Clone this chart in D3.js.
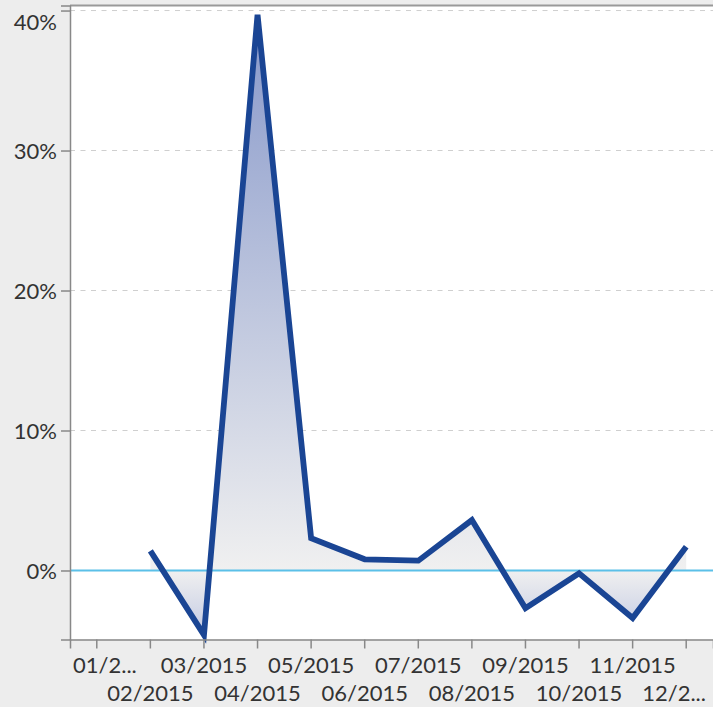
<!DOCTYPE html>
<html>
<head>
<meta charset="utf-8">
<script src="https://cdn.jsdelivr.net/npm/d3@7"></script>
<style>
  html, body { margin: 0; padding: 0; background: #ededed; }
  svg { display: block; }
  svg text { font-family: Lato, "Open Sans", sans-serif; }
</style>
</head>
<body>
<div id="content"></div>
<script>
// data
const months = ['01/2015', '02/2015', '03/2015', '04/2015', '05/2015', '06/2015',
                '07/2015', '08/2015', '09/2015', '10/2015', '11/2015', '12/2015'];
const tickLabels = ['01/2...', '02/2015', '03/2015', '04/2015', '05/2015', '06/2015',
                    '07/2015', '08/2015', '09/2015', '10/2015', '11/2015', '12/2...'];
const changes = [null, 0.014, -0.046, 0.397, 0.023, 0.008, 0.007, 0.036, -0.027, -0.002, -0.034, 0.017];
const yTicks = [0, 0.1, 0.2, 0.3, 0.4];

const width = 713, height = 707;
const margin = { top: 5.5, right: 0, bottom: 67.5, left: 70 };

const svg = d3.select('#content').append('svg')
  .attr('width', width).attr('height', height);

const x = d3.scaleBand().domain(months).range([margin.left, width - margin.right]);
const y = d3.scaleLinear().domain([-0.0493, 0.4036]).range([height - margin.bottom, margin.top]);
const cx = d => x(d) + x.bandwidth() / 2;

// cut-off title above the frame (only its descenders show)
svg.append('text')
  .attr('x', 400).attr('y', -4)
  .attr('text-anchor', 'middle')
  .style('font-size', '22px').style('font-weight', 'bold').style('fill', '#111')
  .text('Monthly change, top products per group');

// plot background
svg.append('rect')
  .attr('x', margin.left).attr('y', margin.top)
  .attr('width', width - margin.left - margin.right)
  .attr('height', height - margin.bottom - margin.top)
  .attr('fill', '#fff');

// gridlines
svg.append('g').selectAll('line')
  .data(yTicks.filter(t => t !== 0))
  .join('line')
  .attr('x1', margin.left).attr('x2', width)
  .attr('y1', d => y(d)).attr('y2', d => y(d))
  .attr('stroke', '#cfcfcf').attr('stroke-width', 1).attr('stroke-dasharray', '5,5.5');

// area gradient: blue at the extremes, grey at zero
const pts = months.map((m, i) => ({ m, v: changes[i] })).filter(d => d.v !== null);
const vMax = d3.max(pts, d => d.v), vMin = d3.min(pts, d => d.v);
const zeroOff = (y(0) - y(vMax)) / (y(vMin) - y(vMax));
const grad = svg.append('defs').append('linearGradient')
  .attr('id', 'areaGrad').attr('gradientUnits', 'userSpaceOnUse')
  .attr('x1', 0).attr('x2', 0).attr('y1', y(vMax)).attr('y2', y(vMin));
grad.append('stop').attr('offset', 0).attr('stop-color', '#8798ca');
grad.append('stop').attr('offset', zeroOff).attr('stop-color', '#f0f0f0');
grad.append('stop').attr('offset', 1).attr('stop-color', '#c2c9e3');

svg.append('path')
  .datum(pts)
  .attr('fill', 'url(#areaGrad)')
  .attr('d', d3.area().x(d => cx(d.m)).y0(y(0)).y1(d => y(d.v)));

// zero line
svg.append('line')
  .attr('x1', margin.left).attr('x2', width)
  .attr('y1', y(0)).attr('y2', y(0))
  .attr('stroke', '#5bc0e8').attr('stroke-width', 2.2);

// series line
svg.append('path')
  .datum(pts)
  .attr('fill', 'none')
  .attr('stroke', '#1a4594').attr('stroke-width', 5.8)
  .attr('d', d3.line().x(d => cx(d.m)).y(d => y(d.v)));

// frame
svg.append('line')
  .attr('x1', margin.left).attr('x2', width)
  .attr('y1', margin.top).attr('y2', margin.top)
  .attr('stroke', '#999').attr('stroke-width', 2);

// y axis
const yAxis = svg.append('g')
  .attr('transform', `translate(${margin.left},0)`)
  .call(d3.axisLeft(y).tickValues(yTicks).tickFormat(d3.format('.0%')).tickSize(9).tickPadding(4))
  .attr('font-family', null).attr('font-size', null);
yAxis.select('.domain').attr('stroke', '#888').attr('stroke-width', 1.5);
yAxis.selectAll('.tick line').attr('stroke', '#888').attr('stroke-width', 1.5);
yAxis.selectAll('.tick text')
  .style('font-size', '22px').style('fill', '#333').attr('dy', '0.36em')
  // the top label is pushed down so it stays inside the window
  .attr('y', d => d === d3.max(yTicks) ? 11 : 0);

// x axis, labels in two staggered rows
const xAxis = svg.append('g')
  .attr('transform', `translate(0,${height - margin.bottom})`)
  .call(d3.axisBottom(x).tickSizeOuter(0).tickSize(9).tickFormat((d, i) => tickLabels[i]))
  .attr('font-family', null).attr('font-size', null);
xAxis.select('.domain').attr('stroke', '#888').attr('stroke-width', 1.5);
xAxis.selectAll('.tick line').attr('stroke', '#888').attr('stroke-width', 1.5);
const last = months.length - 1;
xAxis.selectAll('.tick text')
  .style('font-size', '22px').style('fill', '#333')
  .attr('dy', null)
  .attr('y', (d, i) => i % 2 === 0 ? 33 : 61.5)
  // edge labels are shifted to stay inside the plot width
  .attr('text-anchor', (d, i) => i === 0 ? 'start' : i === last ? 'end' : 'middle')
  .attr('x', (d, i) => i === 0 ? margin.left + 3 - cx(d) : i === last ? width - 7 - cx(d) : 0);
</script>
</body>
</html>
